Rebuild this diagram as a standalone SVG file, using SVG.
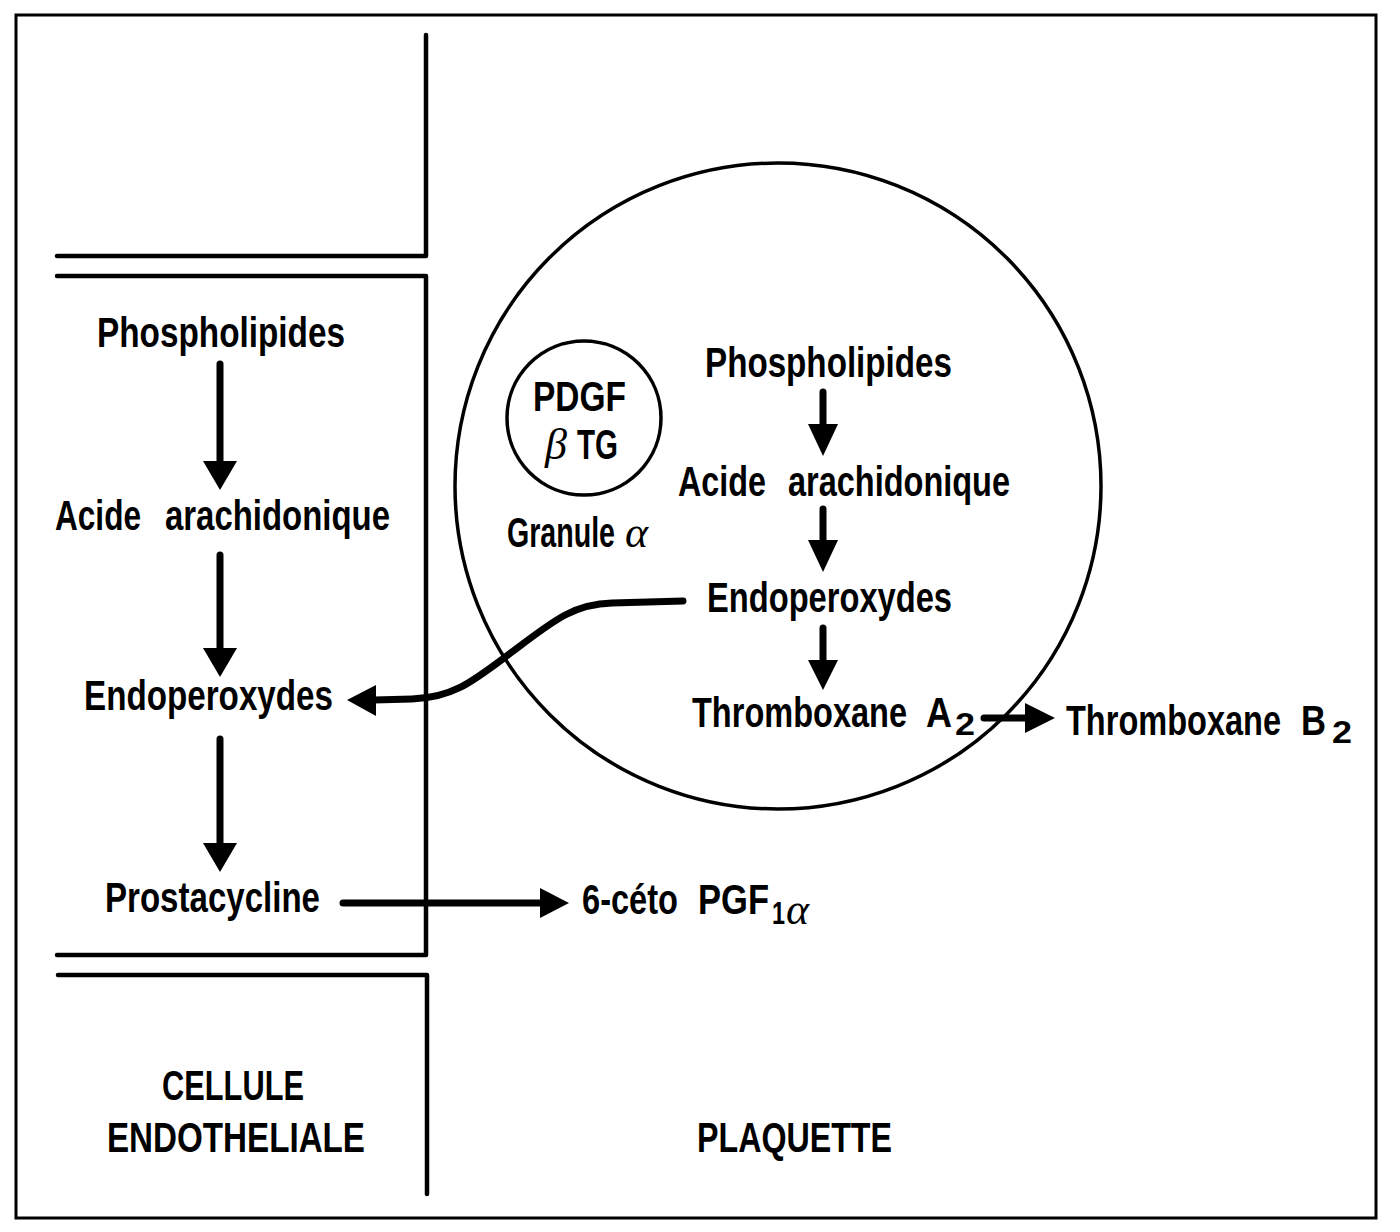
<svg xmlns="http://www.w3.org/2000/svg" width="1400" height="1232" viewBox="0 0 1400 1232">
<style>
  .t { font-family: "Liberation Sans Narrow", "Liberation Sans", Arial, sans-serif; font-weight: bold; font-size: 43px; fill: #000; }
  .sub { font-size: 32px; }
  .gr { font-family: "Liberation Serif", "DejaVu Serif", serif; font-style: italic; font-weight: normal; font-size: 44px; }
  .wall { fill: none; stroke: #000; stroke-width: 4.5; stroke-linecap: round; stroke-linejoin: round; }
  .frame { fill: none; stroke: #000; stroke-width: 3; }
  .cell { fill: none; stroke: #000; stroke-width: 3.5; }
  .shaft { fill: none; stroke: #000; stroke-width: 7; stroke-linecap: round; }
  .head { fill: #000; stroke: none; }
</style>
<rect x="0" y="0" width="1400" height="1232" fill="#fff"/>
<rect class="frame" x="16" y="15" width="1360" height="1203"/>

<g id="walls">
  <path class="wall" d="M426,35 L426,256 L57,256"/>
  <path class="wall" d="M57,276 L426,276 L426,955 L57,955"/>
  <path class="wall" d="M58,975 L427,975 L427,1194"/>
</g>

<g id="plaquette-membrane">
  <circle class="cell" cx="778" cy="486" r="323"/>
</g>

<g id="granule">
  <circle class="cell" cx="584" cy="418" r="77" stroke-width="4"/>
  <text class="t" x="533" y="411" textLength="93" lengthAdjust="spacingAndGlyphs">PDGF</text>
  <text class="gr" x="545" y="459">β</text>
  <text class="t" x="577" y="459" textLength="41" lengthAdjust="spacingAndGlyphs">TG</text>
  <text class="t" x="507" y="547" textLength="108" lengthAdjust="spacingAndGlyphs">Granule</text>
  <text class="gr" x="625" y="547">α</text>
</g>

<g id="endo-phospholipides"><text class="t" x="97" y="347" textLength="248" lengthAdjust="spacingAndGlyphs">Phospholipides</text></g>
<g id="endo-acide">
  <text class="t" x="55" y="530" textLength="86" lengthAdjust="spacingAndGlyphs">Acide</text>
  <text class="t" x="165" y="530" textLength="225" lengthAdjust="spacingAndGlyphs">arachidonique</text>
</g>
<g id="endo-endoperoxydes"><text class="t" x="84" y="710" textLength="249" lengthAdjust="spacingAndGlyphs">Endoperoxydes</text></g>
<g id="endo-prostacycline"><text class="t" x="105" y="912" textLength="215" lengthAdjust="spacingAndGlyphs">Prostacycline</text></g>
<g id="ceto-pgf">
  <text class="t" x="582" y="914" textLength="96" lengthAdjust="spacingAndGlyphs">6-céto</text>
  <text class="t" x="698" y="914" textLength="71" lengthAdjust="spacingAndGlyphs">PGF</text>
  <text class="t sub" x="772" y="924" textLength="13" lengthAdjust="spacingAndGlyphs">1</text>
  <text class="gr" x="786" y="924" font-size="34">α</text>
</g>

<g id="plq-phospholipides"><text class="t" x="705" y="377" textLength="247" lengthAdjust="spacingAndGlyphs">Phospholipides</text></g>
<g id="plq-acide">
  <text class="t" x="678" y="496" textLength="88" lengthAdjust="spacingAndGlyphs">Acide</text>
  <text class="t" x="788" y="496" textLength="222" lengthAdjust="spacingAndGlyphs">arachidonique</text>
</g>
<g id="plq-endoperoxydes"><text class="t" x="707" y="612" textLength="245" lengthAdjust="spacingAndGlyphs">Endoperoxydes</text></g>
<g id="plq-txa2">
  <text class="t" x="692" y="727" textLength="215" lengthAdjust="spacingAndGlyphs">Thromboxane</text>
  <text class="t" x="926" y="727" textLength="26" lengthAdjust="spacingAndGlyphs">A</text>
  <text class="t sub" x="955" y="735" textLength="20" lengthAdjust="spacingAndGlyphs">2</text>
</g>
<g id="txb2">
  <text class="t" x="1066" y="735" textLength="215" lengthAdjust="spacingAndGlyphs">Thromboxane</text>
  <text class="t" x="1301" y="735" textLength="25" lengthAdjust="spacingAndGlyphs">B</text>
  <text class="t sub" x="1332" y="743" textLength="20" lengthAdjust="spacingAndGlyphs">2</text>
</g>

<g id="label-cellule">
  <text class="t" x="162" y="1100" textLength="142" lengthAdjust="spacingAndGlyphs">CELLULE</text>
  <text class="t" x="107" y="1152" textLength="258" lengthAdjust="spacingAndGlyphs">ENDOTHELIALE</text>
</g>
<g id="label-plaquette">
  <text class="t" x="697" y="1152" textLength="195" lengthAdjust="spacingAndGlyphs">PLAQUETTE</text>
</g>

<g id="connectors">
  <path class="shaft" d="M220,364 L220,463"/>
  <polygon class="head" points="203,461 237,461 220,490"/>
  <path class="shaft" d="M220,555 L220,650"/>
  <polygon class="head" points="203,648 237,648 220,677"/>
  <path class="shaft" d="M220,739 L220,845"/>
  <polygon class="head" points="203,843 237,843 220,872"/>

  <path class="shaft" d="M823,392 L823,426"/>
  <polygon class="head" points="808,424 838,424 823,456"/>
  <path class="shaft" d="M823,509 L823,542"/>
  <polygon class="head" points="808,540 838,540 823,572"/>
  <path class="shaft" d="M823,628 L823,662"/>
  <polygon class="head" points="808,660 838,660 823,690"/>

  <path class="shaft" d="M984,718 L1027,718"/>
  <polygon class="head" points="1025,703 1025,733 1055,718"/>

  <path class="shaft" stroke-width="6" d="M343,903 L542,903"/>
  <polygon class="head" points="540,888 540,918 569,903"/>

  <path class="shaft" d="M683,601 L612,603 C572,604 552,622 508,655 C472,682 452,698 412,699 L374,700"/>
  <polygon class="head" points="376,685 376,716 347,700"/>
</g>
</svg>
